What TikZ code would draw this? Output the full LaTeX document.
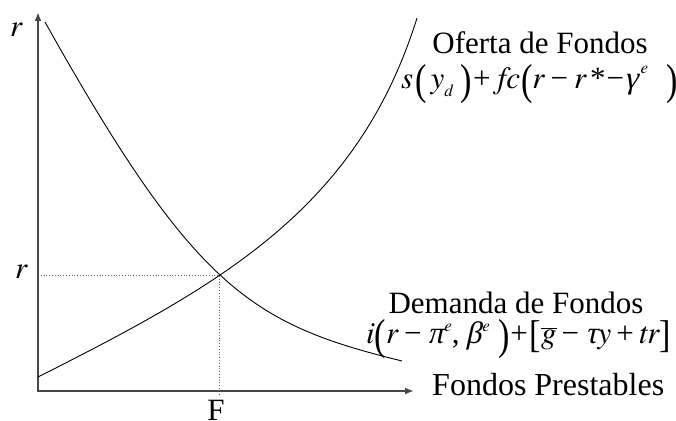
\documentclass[tikz,border=0pt]{standalone}
\usepackage{fontspec}
\setmainfont{Liberation Serif}
\newfontfamily\tit{texgyretermes-italic.otf}
\newfontfamily\grk{Liberation Serif}[FakeSlant=0.22]
\usepackage{graphicx}
\usetikzlibrary{arrows.meta}
\newcommand\BPL{\raisebox{-6pt}{\rmfamily\scalebox{1.1}[1.4]{(}}}
\newcommand\BPR{\raisebox{-6pt}{\rmfamily\scalebox{1.1}[1.4]{)}}}
\newcommand\BBL{\raisebox{-4pt}{\rmfamily\scalebox{1.1}[1.25]{[}}}
\newcommand\BBR{\raisebox{-4pt}{\rmfamily\scalebox{1.1}[1.25]{]}}}
\newcommand\SUPE[1][14pt]{\raisebox{#1}{\fontsize{17}{17}\selectfont\tit e}}
\newcommand\SUBD{\raisebox{-8pt}{\fontsize{17}{17}\selectfont\tit d}}
\begin{document}
\begin{tikzpicture}[x=1pt,y=-1pt,
  lbl/.style={inner sep=0pt, font=\fontsize{31}{33}\selectfont},
  axis/.style={draw=black!72, line width=2pt},
  curve/.style={line width=0.9pt},
  guide/.style={dotted, line width=0.8pt, black!60}]
\useasboundingbox (0,0) rectangle (676,420);
\coordinate (O) at (38,391);
\coordinate (Ytop) at (38,12);
\coordinate (Xend) at (414,391);
\coordinate (E) at (219,275);
\coordinate (S0) at (38,377);
\coordinate (S1) at (417,18);
\coordinate (D0) at (45,22);
\coordinate (D1) at (402,361);
% guides
\draw[guide] (O |- E) -- (E) -- ([yshift=-4pt]E |- O);
% axes
\draw[axis,{Latex[length=9pt,width=7pt]}-{Latex[length=9pt,width=7pt]}] (Ytop) -- (O) -- (Xend);
% supply
\draw[curve] (S0) .. controls (220,285) and (357,210) .. (S1);
% demand
\draw[curve] (D0) .. controls (195,290) and (252,324) .. (D1);
% labels
\node[lbl, anchor=base] (of) at (540,53) {Oferta de Fondos};
\node[lbl, anchor=base west] (sf) at (401,88) {{\tit s}\hspace{2pt}\BPL\hspace{4pt}{\tit y}\SUBD\hspace{8pt}\BPR\hspace{1pt}+\hspace{7pt}{\tit fc}\hspace{1pt}\BPL{\tit r}\hspace{6pt}−\hspace{6pt}{\tit r}\hspace{4pt}*\hspace{1pt}−{\grk γ}\hspace{3pt}\SUPE\hspace{18pt}\BPR};
\node[lbl, anchor=base] (df) at (516,313) {Demanda de Fondos};
\node[lbl, anchor=base west] (dfe) at (366,343) {{\tit i}\BPL{\tit r}\hspace{6pt}−\hspace{6pt}{\grk π}\hspace{1pt}\SUPE[12pt],\hspace{6pt}{\grk β}\hspace{1pt}\SUPE[12pt]\hspace{9pt}\BPR\hspace{0pt}+\hspace{2pt}\BBL$\overline{\hbox{\tit g}}$\hspace{5pt}−\hspace{6pt}{\grk τ}{\tit y}\hspace{5pt}+\hspace{5pt}{\tit tr}\BBR};
\node[lbl, anchor=base west, font=\fontsize{32}{34}\selectfont] (fp) at (432,395) {Fondos Prestables};
\node[lbl, anchor=base] (F) at (216,420) {F};
\node[lbl, anchor=base west] (r1) at (10,37) {\tit r};
\node[lbl, anchor=base west] (r2) at (15,278) {\tit r};
\end{tikzpicture}
\end{document}
